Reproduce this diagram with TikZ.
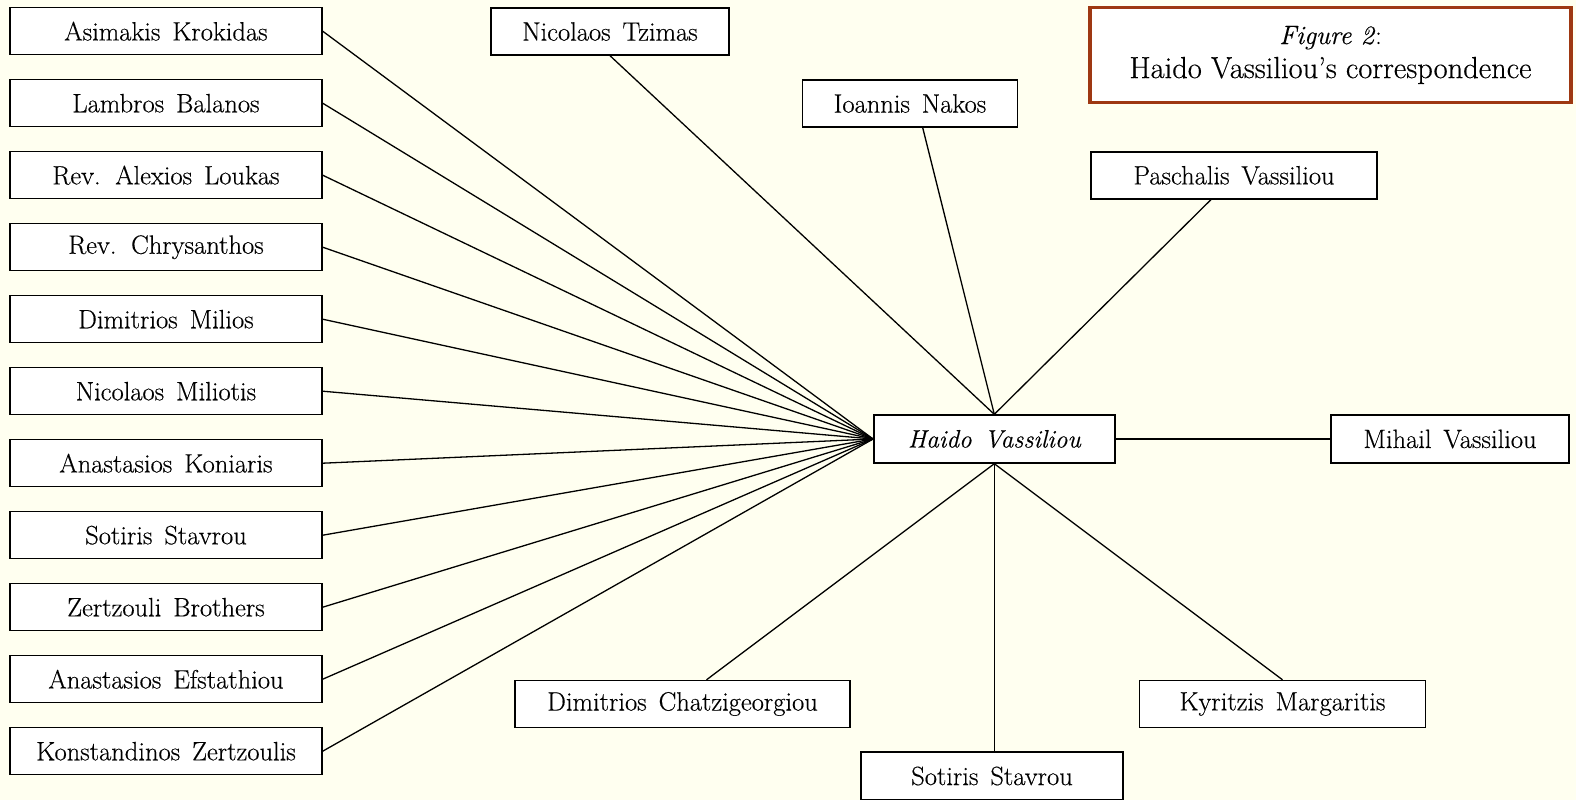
\documentclass[tikz,border=0pt]{standalone}
\usepackage{fontspec}
\setmainfont{Latin Modern Roman}[FakeBold=0.35]
\usepackage{xcolor}
\definecolor{bgcol}{RGB}{255,255,240}
\definecolor{titleborder}{RGB}{158,56,18}
\newcommand\mywidesp{\spaceskip=0.45em plus 0.1em\relax}
\newcommand\mywidespit{\spaceskip=0.5em plus 0.1em\relax}
\begin{document}
\begin{tikzpicture}[x=1pt,y=-1pt,
  person/.style={draw=black, line width=1.4pt, fill=white, inner sep=0pt,
    minimum height=47pt, font=\fontsize{26.5}{31}\selectfont\mywidesp},
  leftbox/.style={person, minimum width=312pt},
  link/.style={line width=1.3pt, draw=black}]
\useasboundingbox[fill=bgcol] (0,0) rectangle (1576,800);

% central node
\node[person, minimum width=241pt, minimum height=48pt,
  font=\fontsize{25.2}{30}\selectfont\itshape\mywidespit] (haido) at (994.3,439) {Haido Vassiliou};

% left column
\foreach \nm [count=\i] in {Asimakis Krokidas, Lambros Balanos, Rev. Alexios Loukas,
  Rev. Chrysanthos, Dimitrios Milios, Nicolaos Miliotis, Anastasios Koniaris,
  Sotiris Stavrou, Zertzouli Brothers, Anastasios Efstathiou, Konstandinos Zertzoulis}{
  \node[leftbox] (l\i) at (166, {31.2+72*(\i-1)}) {\nm};
  \draw[link] (l\i.east) -- (haido.west);
}

% top / right / bottom nodes
\node[person, minimum width=238pt] (tzimas) at (610,31.5) {Nicolaos Tzimas};
\node[person, minimum width=215pt] (nakos) at (910,103.5) {Ioannis Nakos};
\node[person, minimum width=286pt] (paschalis) at (1234,175.4) {Paschalis Vassiliou};
\node[person, minimum width=238pt, minimum height=48pt] (mihail) at (1450,439) {Mihail Vassiliou};
\node[person, minimum width=335pt] (chatzi) at (682.5,704) {Dimitrios Chatzigeorgiou};
\node[person, minimum width=262pt, minimum height=48pt] (sotiris) at (992,776) {Sotiris Stavrou};
\node[person, minimum width=286pt] (kyritzis) at (1282.5,704) {Kyritzis Margaritis};

% title
\node[draw=titleborder, line width=3.6pt, fill=white, inner sep=0pt,
  minimum width=481pt, minimum height=95pt, align=center,
  font=\fontsize{26.5}{34}\selectfont] (title) at (1330.5,55)
  {\textit{Figure 2}:\\{\fontsize{30.5}{34}\selectfont Haido Vassiliou’s correspondence}};

% connectors
\draw[link] (tzimas.south) -- (haido.north);
\draw[link] ([xshift=12.7pt]nakos.south) -- (haido.north);
\draw[link] ([xshift=-23pt]paschalis.south) -- (haido.north);
\draw[link] (haido.east) -- (mihail.west);
\draw[link] ([xshift=24pt]chatzi.north) -- (haido.south);
\draw[link] (haido.south) -- (haido.south |- sotiris.north);
\draw[link] (kyritzis.north) -- (haido.south);
\end{tikzpicture}
\end{document}
